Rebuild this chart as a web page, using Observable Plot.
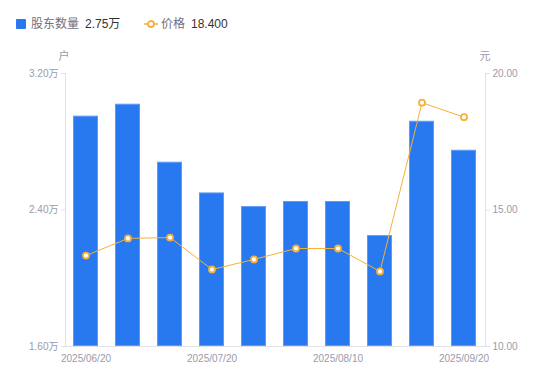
<!DOCTYPE html>
<html><head><meta charset="utf-8">
<script src="https://cdn.jsdelivr.net/npm/d3@7"></script>
<script src="https://cdn.jsdelivr.net/npm/@observablehq/plot@0.6"></script>
<style>
body{margin:0;background:#fff;font-family:"Liberation Sans","Noto Sans CJK SC",sans-serif;}
#wrap{width:550px;height:381px;position:relative;overflow:hidden;}
#legend{position:relative;height:45px;font-size:12px;}
.li{position:absolute;top:16px;white-space:nowrap;line-height:16px;}
.lab{color:#707080;}
.val{color:#333;margin-left:6px;}
</style></head>
<body><div id="wrap"><div id="legend"></div><div id="chart"></div></div>
<script>
const dates = ["2025/06/20","2025/06/30","2025/07/10","2025/07/20","2025/07/25","2025/07/31","2025/08/10","2025/08/29","2025/09/10","2025/09/20"];
const holders = [2.95, 3.02, 2.68, 2.50, 2.42, 2.45, 2.45, 2.25, 2.92, 2.75]; // 万户
const prices = [13.33, 13.96, 13.99, 12.82, 13.19, 13.59, 13.59, 12.75, 18.93, 18.40]; // 元
const holderTicks = [1.6, 2.4, 3.2];
const priceTicks = [10, 15, 20];
const seriesNames = ["股东数量", "价格"];
const units = ["户", "元"];

const hMin = holderTicks[0], hMax = holderTicks[holderTicks.length-1];
const pMin = priceTicks[0], pMax = priceTicks[priceTicks.length-1];
const toY = p => hMin + (p - pMin) / (pMax - pMin) * (hMax - hMin);
const fromY = v => pMin + (v - hMin) / (hMax - hMin) * (pMax - pMin);

const data = dates.map((d, i) => ({date: d, holders: holders[i], price: prices[i]}));

const blue = "#2878f0", orange = "#f6b13a", grey = "#9a9aab", axisC = "#e2e2e6";

// legend
const lg = document.getElementById("legend");
lg.innerHTML = `
<div class="li" style="left:16px"><span style="display:inline-block;width:10px;height:10px;background:${blue};border-radius:1px;vertical-align:-1px;margin-right:5px"></span><span class="lab">${seriesNames[0]}</span><span class="val">${holders[holders.length-1].toFixed(2)}万</span></div>
<div class="li" style="left:144px"><svg width="14" height="10" style="vertical-align:-1px;margin-right:3px"><line x1="0" y1="5" x2="14" y2="5" stroke="${orange}" stroke-width="1.5"/><circle cx="7" cy="5" r="3" fill="#fff" stroke="${orange}" stroke-width="1.8"/></svg><span class="lab">${seriesNames[1]}</span><span class="val">${prices[prices.length-1].toFixed(3)}</span></div>`;

const chart = Plot.plot({
  width: 550,
  height: 336,
  marginLeft: 65,
  marginRight: 65,
  marginTop: 28,
  marginBottom: 35,
  style: {fontFamily: '"Liberation Sans","Noto Sans CJK SC",sans-serif', fontSize: "10px", background: "#fff"},
  x: {type: "band", domain: dates, paddingInner: 0.4, paddingOuter: 0.2, axis: null},
  y: {domain: [hMin, hMax], axis: null},
  marks: [
    Plot.barY(data, {x: "date", y1: hMin, y2: "holders", fill: blue, stroke: "#5c9bf5", strokeWidth: 1, inset: 0.5}),
    Plot.frame({anchor: "left", stroke: axisC}),
    Plot.frame({anchor: "right", stroke: axisC}),
    Plot.frame({anchor: "bottom", stroke: axisC}),
    Plot.axisY(holderTicks, {anchor: "left", tickSize: 4, tickPadding: 3, stroke: axisC, fill: grey, label: null, tickFormat: d => d.toFixed(2) + "万"}),
    Plot.axisY(priceTicks.map(toY), {anchor: "right", tickSize: 4, tickPadding: 3, stroke: axisC, fill: grey, label: null, tickFormat: v => fromY(v).toFixed(2)}),
    Plot.axisX(dates.filter((d, i) => i % 3 === 0), {anchor: "bottom", tickSize: 0, tickPadding: 8, fill: grey, label: null}),
    Plot.text([units[0]], {frameAnchor: "top-left", dx: -7, dy: -21, fill: grey, fontSize: 11}),
    Plot.text([units[1]], {frameAnchor: "top-right", dx: 5, dy: -21, fill: grey, fontSize: 11}),
    Plot.line(data, {x: "date", y: d => toY(d.price), stroke: orange, strokeWidth: 1}),
    Plot.dot(data, {x: "date", y: d => toY(d.price), r: 3, fill: "#fff", stroke: orange, strokeWidth: 1.8})
  ]
});
document.getElementById("chart").appendChild(chart);
</script></body></html>
